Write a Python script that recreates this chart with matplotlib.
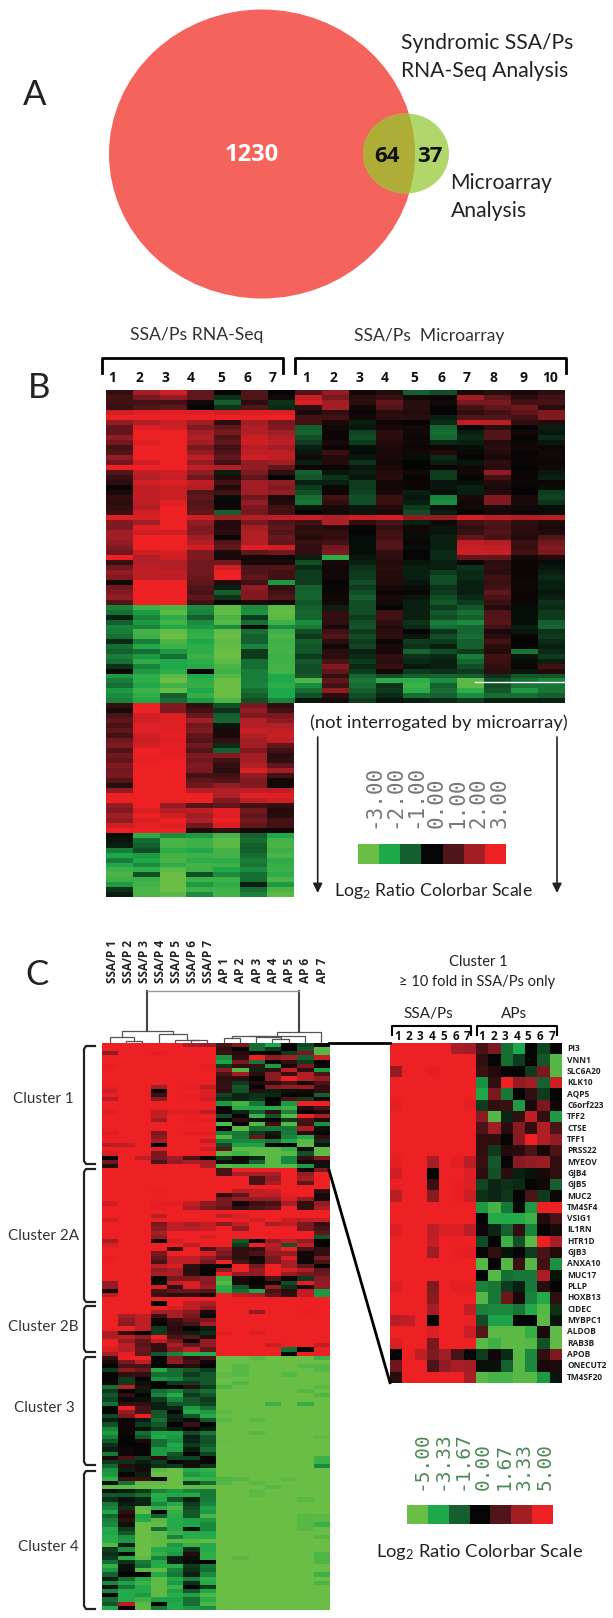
import numpy as np
import matplotlib
matplotlib.use("Agg")
import matplotlib.pyplot as plt
from matplotlib.colors import LinearSegmentedColormap
from matplotlib.patches import Ellipse

W, H = 613, 1618
plt.rcParams['font.family'] = ['Lato', 'DejaVu Sans']
plt.rcParams['mathtext.default'] = 'regular'

COLORS = ['#6ABD45', '#1FA84A', '#155F2E', '#050505', '#4F1518', '#A21E26', '#ED2024']
cmap = LinearSegmentedColormap.from_list('rg', COLORS)

venn_counts = ['1230', '64', '37']

bar_ticks_b = ['-3.00', '-2.00', '-1.00', '0.00', '1.00', '2.00', '3.00']
bar_ticks_c = ['-5.00', '-3.33', '-1.67', '0.00', '1.67', '3.33', '5.00']
bar_values_b = [-3, -2, -1, 0, 1, 2, 3]
bar_values_c = [-5, -3.33, -1.67, 0, 1.67, 3.33, 5]

rnaseq_cols = ['1', '2', '3', '4', '5', '6', '7']
micro_cols = ['1', '2', '3', '4', '5', '6', '7', '8', '9', '10']
c_cols = ['SSA/P 1', 'SSA/P 2', 'SSA/P 3', 'SSA/P 4', 'SSA/P 5', 'SSA/P 6', 'SSA/P 7',
          'AP 1', 'AP 2', 'AP 3', 'AP 4', 'AP 5', 'AP 6', 'AP 7']
genes = ['PI3', 'VNN1', 'SLC6A20', 'KLK10', 'AQP5', 'C6orf223', 'TFF2', 'CTSE', 'TFF1', 'PRSS22',
         'MYEOV', 'GJB4', 'GJB5', 'MUC2', 'TM4SF4', 'VSIG1', 'IL1RN', 'HTR1D', 'GJB3', 'ANXA10',
         'MUC17', 'PLLP', 'HOXB13', 'CIDEC', 'MYBPC1', 'ALDOB', 'RAB3B', 'APOB', 'ONECUT2', 'TM4SF20']

# Panel B, upper-regulated block: 7 RNA-Seq + 10 microarray columns
b_up = [
[.6,2,2.6,1.2,0,1,0,1,1.8,.2,.4,-1,-.8,.3,.5,.3,.5],
[.8,1.5,1.8,1.2,-.5,1,.2,2.5,1.5,.5,.7,.2,.1,2,1.2,.5,.8],
[.8,.8,.8,.2,-1,.5,-.5,2.7,2,.5,1.2,.5,.2,1.5,1.5,.8,.9],
[.7,1,1.2,0,-.5,1,-.4,.6,2,.2,1,.5,0,.8,1.2,1.4,.5],
[2.6,2.8,2.8,2.8,2.6,2.7,2.7,.3,.6,.1,.5,.4,0,.6,.8,1.2,1.6],
[3,3,3,3,3,3,3,.8,.8,.2,.5,.5,-.3,1,1,.8,1.6],
[1.8,2.2,2.5,2,.5,2,1.5,.8,.3,-.3,.1,0,-.4,2.4,2.3,.6,.4],
[1.2,2.8,2.6,1.6,1.2,2.2,1.6,-1,.2,-.2,.3,.2,-1.1,0,.5,0,-.3],
[1.2,3,3,2,1.5,2.2,2,-1.1,.1,-.7,.5,.2,-1.2,-.3,1,.2,-.2],
[1.8,3,3,2.2,1,2.5,2.2,-.8,.1,-.8,.5,.1,-1.1,-.4,1,0,-.4],
[1.4,2.8,3,2,1.2,2.6,2.4,-.6,.3,-.6,.4,.2,-.4,-.3,.4,.1,-.2],
[.8,3,3,1.5,.8,2.3,2,-.3,.1,-.1,.3,.1,.1,-.1,.5,.2,.1],
[1,3,3,1.8,1,2.4,2.4,-.2,.7,-.1,.3,.2,.4,.1,.4,0,.2],
[1.8,3,3,2.4,1.2,2.6,2.4,.2,.4,-.2,.3,-.1,-.4,0,.3,.1,.2],
[1.4,2.6,3,1.8,.8,1.8,2,-.3,.4,-.5,.2,0,-.3,-.2,.5,.1,.1],
[3,3,3,2.4,2.2,1.8,1.2,.1,.1,-.2,.3,0,.1,.2,.5,0,.2],
[1,2.4,2.6,1.8,-.3,1.6,.6,-1,-.2,-.3,.4,.2,-.6,.2,1.8,.1,-.2],
[.7,2.2,2.5,1.4,.4,1.2,0,-.9,-.5,-.2,.5,0,-.6,0,.8,.1,-.3],
[.5,2.6,2.8,2.4,.8,2,1.8,-.3,-.3,-.6,.2,.1,-.2,-.1,.4,.1,.1],
[.1,2.4,2.5,2.2,.4,2,1.6,-.6,.1,-.6,.2,.1,-.2,-.3,.3,0,-.1],
[.3,2.4,2.5,1,.8,2,1.8,-.8,.1,-.7,.3,-.3,-.1,-.3,.4,0,-.6],
[.6,2.4,2.5,1.2,-.1,1.4,.3,-1.2,.8,-.8,.7,-.2,-1.5,.3,1.6,.3,-.7],
[.5,2.4,2.8,1,.1,1.8,.4,-1.3,.6,-.8,.7,-.3,-1.6,.2,1.6,.3,-.5],
[.6,2.2,3,1.1,.1,1.5,.8,-.2,.3,-.2,.4,-.6,-.1,.2,.3,.2,-.1],
[.7,2.6,3,1.2,-1,1.4,.8,0,.2,-.2,.3,-.8,-.3,0,.2,.1,-.1],
[2.8,2.7,3,2.6,2,2.2,2.4,2.5,2.2,2.6,2.6,1.8,1.8,2.7,2.4,2.2,2.3],
[1.6,2,3,1.8,.4,1.5,1,.8,2.2,.6,.9,-.3,.2,.8,1,.6,.4],
[1.6,2.8,3,1.6,.4,2,1.2,.5,.4,.1,.6,.2,-.2,.6,.9,.5,.3],
[2,2.6,2.6,1.6,.5,2.2,1,.6,.6,0,.8,.2,-.2,.7,1,.5,.4],
[2,3,3,2,.1,2.2,1.3,.4,.6,-.1,.8,-.1,-.3,1.2,.9,.4,1],
[1.8,3,3,2.2,1,2.2,1.2,.7,.8,-.1,1,.1,-.3,2.4,2.2,.7,1.4],
[1.6,3,3,2.6,1.2,2.8,2.6,.6,1.4,-.1,1,-.1,-.3,2.5,2.4,.7,1.6],
[1.4,2.6,2.7,1.6,.3,1.2,1.4,.6,1.6,-.1,.6,0,-.4,2.6,2.5,.8,1.5],
[3,2.2,2.6,1.6,.3,.2,.2,-.3,-2.2,-.2,.5,0,-.4,1.2,1.2,.2,.4],
[.7,2.2,2.2,1.4,1.4,.3,.3,-.8,.3,-.3,.4,-.2,-.3,.1,.5,.1,-.1],
[1.4,2.4,2.2,1.4,2.6,1,1,-.4,.2,-.5,.5,-.3,-.3,-.5,.6,.1,-.2],
[1.8,2.4,2.4,1.4,3,1,.8,-.6,.2,-.6,.4,-.3,-.6,-.4,.5,.1,-.3],
[1.6,2.4,2.4,1.3,3,1.2,.8,-.6,.2,-.6,.4,-.3,-.8,-.4,.8,.1,-.4],
[.2,3,3,1.2,.4,.8,-1.8,-.6,0,-.8,.4,-.2,-.8,-.3,.7,.2,-.3],
[1.4,3,3,1,-.3,1.8,.6,-1,.1,-.6,.3,-.1,-.5,-.3,.8,.1,-.3],
[1.6,3,3,.9,-1,1.6,.8,-1.1,.1,-.8,.1,.1,-.6,-.3,1.2,.1,-.2],
[1.8,3,3,1.2,-.5,1.6,1,-1.1,.2,-1,.3,-.2,-.8,-.4,.9,.1,-.3],
[1,3,3,.8,.1,.3,.2,-.9,.2,-.8,.2,-.3,-.9,-.6,.7,.1,-.5],
]
# Panel B, down-regulated block
b_down = [
[-1.5,-2.4,-2.6,-1.6,-2.8,-1.6,-2.8,-1,-.3,-.8,0,-.3,-.6,-.9,.4,-.1,-.4],
[-1.2,-1.8,-2.8,-1.5,-2.9,-1.7,-2.9,-1.1,.6,-.8,.8,-.3,-.9,-1.2,1,-.1,-.6],
[-.3,-1.5,-2.2,-1,-2.6,-.6,-2.8,-1.1,.6,-.6,.8,-.3,-.8,-1,1,-.1,-.6],
[-1,-1.8,-2.5,-1.6,-2.7,-1.2,-2.4,-1.6,.6,-.8,.6,-.5,-1.4,-1.6,1.1,-.1,-1],
[-1.5,-1.5,-2,-1.8,-1.6,-.1,-1.6,-1.4,.3,-.9,.4,-.4,-1.2,-1.1,.8,-.3,-1.1],
[-1.4,-2.5,-2.9,-2.2,-2.9,-1.2,-2.4,-.8,.8,-.6,.5,0,-.5,-1.1,.3,-.2,-.5],
[-1.2,-2.4,-3,-2.3,-3,-1,-2.6,-.6,1,-.8,.6,-.2,-.8,-1.2,.5,.1,-.6],
[-.4,-1.4,-2.6,-2,-2.8,-1,-2.4,-1,.5,-.6,.1,-.6,-.6,-1,.8,0,-.4],
[-1.2,-2,-2.4,-2.2,-2.9,-1.5,-2.5,-.9,.2,-.7,.3,-.5,-.3,-1,.5,.1,-.3],
[-1,-1.2,-1.8,-2.2,-3,-.6,-2.5,-.9,.5,-.3,.3,-1.1,-.8,-.6,.4,-1.3,-.4],
[-1.4,-1.8,-1.2,-2.4,-3,-.6,-2.4,-.6,.5,-.4,.6,-.5,-.4,-1.4,.8,-.2,-.6],
[-1.2,-2.2,-2,-2.2,-2.8,-1.2,-2.4,-.9,.9,-.6,.5,-.4,-.3,-1.1,.7,-.1,-.3],
[-.5,-1.5,-2,-2.1,-2.6,-1.2,-2.5,-.8,1.6,-.4,.7,-.2,-.3,-.8,.6,.1,.8],
[.1,-1.8,-2.2,0,-2.4,-1.4,-2.5,-.8,1.2,-.6,.2,-.6,-.5,-.6,.5,-.2,.4],
[-1.8,-2.2,-2.8,-2,-2.7,-1.4,-2,-.9,.6,-1.1,-.8,-1,-1.1,-1,-.5,-.9,-.9],
[-1.4,-2.2,-3,-2.2,-3,-1.4,-2,-2.6,1.2,-1.3,-2.2,-2.2,-1.6,-2.8,-.8,-1.2,-1.5],
[-1.2,-2,-2.4,-2.3,-3,-1.5,-2.2,-1.6,.8,-1.2,-.5,-2.4,-1,-2.8,-.8,-1.3,-1.3],
[-1.8,-2.4,-2.9,-2,-3,-1.2,-2,-1.2,1.8,-1,-.6,-2.2,-1.2,-2.2,-.9,-1.8,-1.3],
[-1.6,-2.2,-1,-2.3,-3,-1,-2,-.8,.5,-.8,-.4,-1.2,-1,-1.6,-1.2,-1.2,-1],
[-1.5,-2,-1.2,-1.8,-2.6,-.8,-1.5,-.2,.3,-.6,-.2,-.3,-.4,-.6,-.3,-.3,-.3],
]
# Panel B, RNA-Seq only blocks
b_only_up = [
[.6,3,1.6,.6,-.8,1.5,.6],[.3,3,1.5,.8,-.5,1.8,.8],[.9,2.6,2.8,1.3,-1,1.6,1.5],
[1.2,2.6,2.8,2,-1.1,2.2,1.7],[.9,2.8,2.8,1.4,-.2,2.2,2.2],[1.2,2.8,2.8,1.6,.3,2.5,2.4],
[.8,2.6,2.9,1.2,.3,2.2,2.5],[1.4,2.5,2.8,1,.6,2,2.4],[1.6,2.7,2.9,1.4,-.4,2,1.2],
[1,3,2.9,1,-1,1.6,.8],[1.4,3,2.9,1.6,1.6,2,.5],[1.2,2.9,3,1.4,.8,2,.6],
[1.6,3,3,1.6,.6,2.2,1.2],[1.4,3,3,1.5,.5,2.7,2],[1.5,3,3,.8,.8,1.8,.8],
[1,3,3,1.2,1,1.6,.2],[.5,3,3,1.4,1.8,1.6,.2],[1.8,3,3,2.2,2.2,2.4,2.4],
[3,3,3,3,2.2,2.8,2.8],[3,3,3,3,1.6,2.4,2.6],[1.8,3,1.8,1,1.2,.8,.6],
[1.6,2.7,2.2,2.4,2.8,1.4,.4],[2,3,2.6,2,2.8,1.2,.5],[1.8,2.7,3,2.2,3,1.4,.8],
[2.6,2.9,2.8,1.4,2.7,1.2,.8],[3,3,3,.4,.6,.2,.2],
]
b_only_down = [
[-.1,-2.2,-1.6,-1.8,-2.5,-1,-2],[-.2,-1.2,-2.6,-2.4,-2.8,-1.2,-2.5],[-.3,-1,-2.5,-2.4,-2.8,-1,-2.6],
[-1.4,-.8,-2.2,-2,-2.5,-1,-2.4],[-2,-1.8,-2.5,-2.4,-2.5,-1.2,-2.6],[-1.4,-2,-2.6,-2.2,-2.2,-1.4,-2.2],
[-2,-1.6,-2.2,-2.5,-2.4,-1.3,-2.3],[-2.4,-2.2,-2.8,-2.4,-2,-1.6,-2.4],[-2.6,-.8,-3,-.8,-1.6,-1.2,-2.2],
[-2.4,-2.4,-3,-2.4,-2.4,-1.2,-2.6],[-1.8,-2.5,-3,-1.8,-2.2,-.3,-1.8],[-.5,-2.6,-3,-2.4,-2.4,-1.2,-2.6],
[-.3,-2.6,-2.8,-1.6,-2.5,-1.5,-2.8],
]

# Panel C, cluster 1 (the 30 named genes)
cluster1 = [
[5,5,5,5,5,3.5,3.3,1.5,2.5,-2,-3.3,0,-1.2,0],
[5,5,5,5,5,5,5,1,0,-2,-1,0,-1.5,-4.5],
[3,5,5,4.8,5,5,5,1.2,.7,0,0,-1,2.5,-4.5],
[5,5,5,5,5,5,5,-2.8,1,5,3,3.3,-1.7,4.2],
[5,5,5,5,5,5,5,-3.3,2.5,-2.2,0,1,-1,0],
[4.8,5,5,5,5,5,4.8,-1,1,1.2,-3,.4,2.5,.3],
[5,5,5,5,5,5,5,2.8,-4.5,-.6,1,4,1,-3],
[5,5,5,5,5,5,5,1.6,3.3,.8,2.8,1,3.7,1.6],
[5,5,5,5,5,5,5,1,.9,0,2.8,5,3.7,3],
[5,5,5,5,5,5,5,1,-1,.7,.8,1.6,.4,1.6],
[4.8,5,5,3.4,5,4.8,3.9,1.2,-1.5,0,2.8,3,3.2,1],
[4.3,5,5,0,5,5,4.6,.9,-1.4,.8,-.5,-.3,.4,1],
[4.9,5,5,1.2,5,4.9,4.6,-1.2,-.6,-.8,-.7,0,.3,-1.7],
[3.8,5,5,2.8,5,4.9,4.2,-.8,-.6,-.9,0,1.6,-1,.2],
[5,5,5,5,5,5,5,-3,-4.2,-2.2,-.1,-3,5,5],
[5,5,5,5,5,5,5,0,-3.5,-3.4,-3.5,-4,.7,1.5],
[4.6,5,5,3.9,4.6,4.6,3.8,.3,-.6,-1.7,1,-2.5,0,.5],
[5,5,5,4.1,5,5,5,-1.3,0,-4,-1.4,-4.7,5,3.5],
[5,5,5,3.3,5,4.9,4.8,0,1,-.3,0,-1,1.5,.7],
[5,5,5,5,5,5,5,-4.5,0,-4.5,1.2,-4.5,1.3,-2.8],
[5,5,5,5,5,5,5,0,-4.6,-2,-2.2,-2.2,3.5,-.3],
[4.6,5,5,2.6,5,4.8,4.8,-2.5,-2.2,-1,-.5,-2.3,.8,0],
[5,5,5,2.8,5,5,5,-4.5,-2.2,2.2,.5,-2.5,-3.5,1],
[5,5,5,3.4,5,5,4,-2.4,-2.6,-2.6,-2.2,-3.4,-4.6,-.8],
[3.8,4,5,0,5,5,4.9,-1.3,-3.2,-3.2,0,0,-4.7,-.3],
[5,5,5,4.6,5,5,4.2,1.8,-4.7,-4.7,-4.7,-3.8,.5,-4.8],
[4.5,5,5,2.5,5,5,5,-4.6,-4,-4.7,-4.7,-4.5,-1.4,-4.8],
[0,5,4,2.6,3.3,1.5,0,-1,.3,-.7,-4.6,-2.6,1,2.6],
[2.3,5,5,1.6,3,3.5,3.3,-.2,-.2,-1.7,-4.6,-2.6,.4,.6],
[.8,5,5,5,5,5,3.5,-4.6,-4.2,-4.2,-4.6,-4.6,-3,-.3],
]
cluster2a = [
[5,5,5,5,5,5,5,1.5,5,5,5,5,.3,2.5],
[5,5,5,5,5,5,5,1.5,3.5,3.5,3.5,5,3,5],
[5,5,5,5,5,5,5,5,5,1.5,3,5,3.5,5],
[5,5,5,5,5,5,5,5,5,1.5,3.5,5,2,5],
[5,5,5,5,5,5,5,5,5,5,5,5,5,5],
[5,5,5,4.9,5,5,5,5,3.8,4,4.2,5,5,1],
[5,5,5,5,5,5,5,1,2,4,4,4.8,5,.5],
[5,5,5,5,5,5,5,2.5,3,3,3,4.5,3,.5],
[4.3,5,5,4.8,4.8,4,2.8,2.5,.3,1.2,1.5,3.5,1,3],
[5,5,5,4.8,5,3.5,2.5,2,1,1.5,2,5,1,3.5],
[5,5,5,5,5,5,5,5,5,5,5,5,5,5],
[5,5,5,3.8,5,5,5,4,4.5,5,5,5,5,5],
[4.3,5,5,5,5,5,5,5,5,4.3,5,4.2,4,4.2],
[5,5,5,2.5,4,3.5,4,2.8,4,5,3.5,4,2.5,1],
[5,5,5,2.8,4,3.8,4.2,5,3,5,5,5,2.5,1.5],
[5,5,5,3.5,5,5,5,5,5,5,5,5,5,2],
[5,5,5,3,5,5,4.5,5,5,5,5,5,5,-1.5],
[3.5,5,5,.3,4.5,5,5,5,-1.5,0,3,4,3,0],
[4.5,5,5,5,5,4,5,5,-1,5,3.8,-1.5,4,0],
[5,5,5,5,1,5,1.5,3,1,1,3.5,5,1.5,1],
[5,5,5,2.5,5,5,4.5,2.5,1,1.5,3,3,.3,1],
[4.8,5,5,2,4,4,3,2,1,.3,2.5,4.5,.3,2.5],
[5,5,5,1.5,4,4,2.5,5,1.5,.5,2.5,3.5,.2,1.5],
[5,5,5,4,4.5,1,.2,0,5,2.5,5,3.5,2,0],
[5,5,5,3,3.5,.8,0,3,5,3,5,4.5,3.5,2],
[5,5,5,3.5,3.5,1,0,5,3,3,5,3,2.5,2.2],
[5,5,5,0,2.5,2.5,3,-4,.5,0,1.5,.3,-1,2.8],
[3,5,5,-.2,4,4.5,2.8,-4.5,.5,0,.2,-1.3,4.8,3],
[3,5,5,4.5,1,4.5,3.3,-3.7,-1.5,.3,3,-.8,.5,3],
[.6,5,5,1.5,2,2,1.8,-3.5,-2,-3.3,1.5,.8,4,-3],
[3.8,5,5,1.2,.8,1,.4,5,4,3.5,2,1,4,-3],
[5,5,5,5,5,5,5,5,5,5,5,5,5,5],
]
cluster2b = [
[5,5,5,0,5,4,3.5,5,5,5,5,5,5,5],
[5,5,5,5,4.5,4,3,5,5,5,5,5,5,5],
[5,5,5,3.5,3.5,2.8,.5,5,5,3,5,5,4.9,5],
[5,3.4,4,1.2,3.5,2.5,.2,5,5,5,5,5,5,5],
[5,3,4,.3,1.2,2,2.5,5,5,5,5,5,5,5],
[5,2.8,4,0,1,1.5,3.5,5,5,5,5,5,5,5],
[5,5,4,-1,.8,0,-.5,5,5,5,5,5,5,5],
[3.5,1,0,-1,1,-.5,-.8,4.6,5,4.5,5,5,5,5],
[3.5,4,3,5,1.5,1.8,.7,5,5,5,5,5,5,5],
[5,3,2,4,2.5,.3,3,5,5,5,5,5,5,5],
[5,4,1.8,1,3.5,2,3,5,5,5,4.2,5,5,4],
[4.5,3.8,2.2,1,2.8,4,2,5,5,5,5,-2,0,5],
[3.5,4.8,2,-1.5,-2.5,-3.5,-3.5,5,5,5,5,0,5,5],
]
# Clusters 3 and 4: SSA/P columns; the AP columns sit at the floor except for ap_marks
cluster3_ssa = [
[1,5,5,0,2.8,1,1.5],[.5,2.5,4,0,3,1.5,.3],[0,1.5,1.5,0,.5,.8,0],
[-1,2.8,2.2,-3.5,-2,-1.5,-1],[0,1,1,-2,-2,-1,-1.5],[0,-1,0,-2.8,-2.5,-1.5,-1.5],
[0,-1,-.3,0,-1,-1,-1.5],[-2,3.8,.8,0,0,.8,-1],[-1,0,-.4,-2,-2.5,-1.5,-2],
[-1.5,1,0,-2.5,-3.4,-1,-1.5],[-1.2,.3,-.2,-1,-2.5,-1.5,-1],[-2,1,1,-.5,-1.5,-1.5,-1.2],
[0,5,1.5,-.5,-.6,-3,-2],[0,3,1.5,-1.5,0,-3.5,-3],[-1.3,2.5,5,-1.5,-.6,-1.5,-3.4],
[-.5,0,-.5,-2,-.5,-.2,-1.5],[-1.4,.3,-1,-1.5,0,1.2,0],[-2.5,.3,-.3,-1,-.4,0,-.4],
[-3,.2,-2,-3.2,-3.2,-1.3,-2.2],[-2.4,0,-1.5,-3.5,-3,-.5,-1.5],[-1.5,0,.5,-2,-2.8,-.6,-1.4],
[-.8,0,0,-2,-3.4,-1,-1.5],[-.5,.2,0,-3,-3.2,-.4,-2],[-2.2,.2,0,-3,-1.5,0,-1.2],
[.5,1.5,-1,.8,-1.2,-1.2,0],[-1,-.8,-.5,-1,0,-.3,0],[-1.8,.8,-.3,-.8,-1,.5,-.8],
]
cluster4_ssa = [
[-2.8,-.5,.5,-4.6,-5,-3.4,-3.8],[-3,0,-.5,-5,-5,-3,-3.4],[-3.8,1.2,1.2,.3,-5,-4,-3.8],
[-.2,-2,-4.8,-4.8,-5,-1,-2],[-4.8,-4.8,-5,-5,-5,-4.8,-4.8],[-.3,-.5,-1,-2.5,-3,-2.5,-2.2],
[-1.5,-1.5,-2,-3.6,-3.3,-3.5,-2.2],[-.8,-.3,-.6,-3.4,-1.5,-.5,-2.3],[-2.2,-.4,-.6,-2.6,-3.5,-1,-2.5],
[-2.5,-.8,-4.8,-3.8,-4.4,-1.3,-3.2],[-3.3,1,-5,0,-3.8,-1.5,-3],[-1.8,.5,-3.3,-1.7,-3.6,-1.5,-4.3],
[-2.4,1,-3.5,-4.6,-3.5,-3.2,-3],[-2.6,-.3,-5,-4.8,-3.5,-3.3,-2.6],[-3.4,-1,-5,-2,-3.5,-.3,-2.6],
[-3.3,-1.5,-5,-4.8,-4,-3.5,-3.4],[-3.6,-2.8,-5,-4.8,-2.5,-3.7,-3.5],[-3.6,-3,-5,-4.8,-4.6,-4.6,-4.8],
[-4.5,-.5,-5,-4.8,-3,-4,-3.5],[-1,-2.8,-5,-3.5,-3.3,-.8,-3.5],[-.8,-.1,-5,-3.8,-3,.7,-3.6],
[-1,-3.5,-4.8,-2.5,-.5,-.2,-3.6],[-2,-.8,-2.3,-3.4,-.5,-.1,0],[-3.8,-.3,-2,-3.6,-3.6,-1,-2.2],
[-3,-.2,-4.5,-4.8,-2.5,-.8,-2],[-1.7,0,0,-3.5,-2.2,-.5,-2.6],[-.5,-2,-3.5,-4.8,-3.4,-2.4,-3.8],
[-2.5,-3.2,-4,-4.8,-3,-.8,-3.5],[-.3,-2.2,-3.5,-4.8,-4,0,-1],[-2.5,-3.5,-3.5,-4.8,-3.2,-1.5,-3.3],
[0,-3.4,-3,-4.8,-3.6,-3.2,-4.4],[-2,-3.5,-4,-3.2,-3.2,-2,-3.6],[-1.5,3.8,-4.7,0,-3.4,-2,-4.3],
[-3.5,.3,-4.7,-2.2,-3.4,-3,-2.8],
]
ap_floor = -5.0
# (row within clusters 3+4, AP column, value)
ap_marks = [
(0,2,-4.6),(0,6,-4),(2,1,-4.6),(2,5,-4.5),(2,6,-4.5),(3,1,-4.6),(3,6,-4.5),(4,0,-4.8),(4,1,-4.6),(4,4,-4.5),
(6,1,-4.4),(7,0,-4.4),(7,6,-4.6),(8,5,-4.5),(9,6,-4.4),(11,3,-4),(11,5,-3.8),(13,0,-4.7),(15,0,-4.5),(15,2,-4.5),
(18,2,-4.6),(19,6,-4.8),(20,0,-4.9),(24,6,-4),(25,6,-4),(26,6,-2.6),
(29,0,-4.4),(29,1,-4.5),(29,4,-4.7),(30,0,-4.5),(30,2,-4.6),(31,3,-4.6),(32,2,-4.7),(33,2,-4.7),(34,5,-4.6),
(38,5,-4.6),(38,6,-4.6),(39,5,-4.6),(39,6,-4.7),(40,5,-4.6),(40,6,-3.9),(41,5,-4.6),(43,6,-4.5),
(47,6,-4.4),(48,1,-4.7),(48,6,-4.4),(49,6,-4.4),(52,6,-4),(54,6,-4.3),
]
# Dendrogram over panel C: (merge height, left, right), leaves are column indices
dendro_left = (11.7, (6.5, 0, (2.5, 1, 2)), (8.7, 3, (3.5, 4, (3, 5, 6))))
dendro_right = (10.7, (7, (6.7, (5.5, 7, 8), (6, 9, (4, 10, 11))), 12), 13)
dendro_root = 52.3


def px_axes(x0, y0, x1, y1, **kw):
    ax = fig.add_axes([x0 / W, 1 - y1 / H, (x1 - x0) / W, (y1 - y0) / H], **kw)
    ax.axis('off')
    return ax


def heat(box, data, vmax):
    ax = px_axes(*box)
    ax.imshow(np.array(data, float), cmap=cmap, vmin=-vmax, vmax=vmax,
              aspect='auto', interpolation='nearest')
    return ax


fig = plt.figure(figsize=(W / 100, H / 100), dpi=100, facecolor='white')

# Panel B heat maps
BL, BM, BR = 105.7, 293, 563.7
heat((BL, 390, BR, 605), b_up, 3)
heat((BL, 605, BR, 703), b_down, 3)
heat((BL, 703, BM, 833), b_only_up, 3)
heat((BL, 833, BM, 897), b_only_down, 3)
heat((357.7, 844, 505, 864), [bar_values_b], 3)

# Panel C heat maps
n34 = len(cluster3_ssa) + len(cluster4_ssa)
ap34 = np.full((n34, 7), ap_floor)
for r, c, v in ap_marks:
    ap34[r, c] = v
ssa34 = np.array(cluster3_ssa + cluster4_ssa)
c_all = np.vstack([np.array(cluster1), np.array(cluster2a), np.array(cluster2b), np.hstack([ssa34, ap34])])
heat((101.7, 1043, 329.3, 1610), c_all, 5)
heat((390, 1043.3, 561.7, 1382.7), cluster1, 5)
heat((406.7, 1505, 551.7, 1524), [bar_values_c], 5)

# Dendrogram
dax = px_axes(101.7, 980, 329.3, 1043)
dax.set_xlim(0, 14)
dax.set_ylim(0, 63)


def draw_tree(node):
    if isinstance(node, int):
        return node + .5, 0.0
    h, l, r = node
    xl, hl = draw_tree(l)
    xr, hr = draw_tree(r)
    dax.plot([xl, xl, xr, xr], [hl, h, h, hr], color='#555555', lw=.9, solid_joinstyle='miter')
    return (xl + xr) / 2, h


lx, lh = draw_tree(dendro_left)
rx, rh = draw_tree(dendro_right)
dax.plot([lx, lx], [lh, dendro_root], color='#444444', lw=1.5)
dax.plot([rx, rx], [rh, dendro_root], color='#444444', lw=1.5)
dax.plot([lx, rx], [dendro_root, dendro_root], color='#999999', lw=1)

# Overlay in pixel coordinates
ov = fig.add_axes([0, 0, 1, 1], facecolor='none')
ov.set_xlim(0, W)
ov.set_ylim(H, 0)
ov.axis('off')

# Venn
RED, GREEN, OVER = '#F4645C', '#B0D66C', '#AEAD38'
ov.add_patch(Ellipse((262, 154), 306, 289, fc=RED, ec='none'))
ov.add_patch(Ellipse((406, 153.5), 86, 80, fc=GREEN, ec='none'))
o = Ellipse((406, 153.5), 86, 80, fc=OVER, ec='none')
ov.add_patch(o)
o.set_clip_path(Ellipse((262, 154), 306, 289, transform=ov.transData))

FS = 13.2
TXT = '#222222'
BOLD = ['Open Sans', 'DejaVu Sans']


def t(x, y, s, size=FS, ha='left', va='center', color=TXT, weight='normal', **kw):
    ov.text(x, y, s, fontsize=size, ha=ha, va=va, color=color, fontweight=weight, **kw)


t(35, 95, 'A', 25, ha='center')
t(252, 155, venn_counts[0], 17, ha='center', color='white', weight='bold', family=BOLD)
t(387, 156, venn_counts[1], 16, ha='center', color='#111111', weight='bold', family=BOLD)
t(430, 156, venn_counts[2], 16, ha='center', color='#111111', weight='bold', family=BOLD)
t(401, 43, 'Syndromic SSA/Ps', 15.2)
t(401, 71, 'RNA-Seq Analysis', 15.2)
t(450.6, 183, 'Microarray', 15.2)
t(450.6, 211, 'Analysis', 15.2)

# Panel B annotation
t(39, 388, 'B', 25, ha='center')
t(197, 334.5, 'SSA/Ps RNA-Seq', 12.7, ha='center', color='#333333')
t(429, 335.5, 'SSA/Ps  Microarray', 12.6, ha='center', color='#333333')


def bracket(x0, x1, y0, y1, lw=2):
    ov.plot([x0, x0, x1, x1], [y1, y0, y0, y1], color='black', lw=lw, solid_joinstyle='round')


bracket(101.7, 283, 358, 373)
bracket(295, 566, 358, 373)
for x, s in zip([112.3, 139, 165, 191, 221.7, 247, 273], rnaseq_cols):
    t(x, 378, s, 10, ha='center', color='#111111', weight='bold', family=BOLD)
for x, s in zip([306, 333, 359, 385, 414, 441, 467, 493, 523, 550], micro_cols):
    t(x, 378, s, 10, ha='center', color='#111111', weight='bold', family=BOLD)
ov.plot([475, BR], [682, 682], color='white', lw=1)
t(438.5, 722.5, '(not interrogated by microarray)', ha='center')
for x in (317.7, 557):
    ov.annotate('', xy=(x, 893), xytext=(x, 737),
                arrowprops=dict(arrowstyle='-|>', color='#222222', lw=1.2, mutation_scale=14, shrinkA=0, shrinkB=0))
for i, s in enumerate(bar_ticks_b):
    ov.text(357.7 + (i + .5) * 147.3 / 7 + 5, 828, s, rotation=90, ha='center', va='bottom',
            family='DejaVu Sans Mono', fontsize=15, color='#777777')
t(433.5, 890.5, 'Log$_2$ Ratio Colorbar Scale', 12.7, ha='center')

# Panel C annotation
t(37, 975, 'C', 25, ha='center')
c_xs = [112.7, 129, 144, 160.7, 176.7, 192.7, 209, 225, 241, 257.3, 273.3, 289.3, 305.7, 322]
for x, s in zip(c_xs, c_cols):
    ov.text(x, 983, s, rotation=90, ha='center', va='bottom', fontsize=8.5, fontweight='bold',
            color='#222222', family=BOLD)
for x, y, s in [(43, 1099, 'Cluster 1'), (43.5, 1236, 'Cluster 2A'), (43, 1327, 'Cluster 2B'),
                (44, 1408, 'Cluster 3'), (48, 1547, 'Cluster 4')]:
    t(x, y, s, 11, ha='center', color='#333333')
for y0, y1 in [(1046, 1164), (1169, 1302), (1306, 1352), (1357, 1465), (1471, 1609)]:
    ov.plot([95, 86, 84, 84, 86, 95], [y0, y0, y0 + 3, y1 - 3, y1, y1], color='#222222', lw=1.6)
ov.plot([329, 390], [1043, 1043], color='black', lw=2)
ov.plot([329, 390], [1170, 1382.7], color='black', lw=2)

t(478.5, 962, 'Cluster 1', 10.5, ha='center')
t(477, 982, '≥ 10 fold in SSA/Ps only', 10.5, ha='center')
t(428.5, 1014, 'SSA/Ps', 11, ha='center')
t(514.5, 1014, 'APs', 11, ha='center')
bracket(392, 471, 1026, 1035, lw=1.5)
bracket(477, 557, 1026, 1035, lw=1.5)
for x, s in zip([397.3, 409, 420, 432, 444, 456, 466.7, 482, 494, 504.7, 516.7, 528.3, 540, 551.7],
                rnaseq_cols + rnaseq_cols):
    t(x, 1037, s, 8.5, ha='center', color='#111111', weight='bold', family=BOLD)
rh_px = (1382.7 - 1043.3) / 30
for i, g in enumerate(genes):
    t(567, 1043.3 + (i + .5) * rh_px, g, 6, color='#222222', weight='bold', family=BOLD)
for i, s in enumerate(bar_ticks_c):
    ov.text(406.7 + (i + .5) * 145 / 7 + 4, 1490, s, rotation=90, ha='center', va='bottom',
            family='DejaVu Sans Mono', fontsize=14, color='#4E8A55')
t(480, 1552, 'Log$_2$ Ratio Colorbar Scale', ha='center')

fig.savefig('out.png', dpi=100, facecolor='white')
